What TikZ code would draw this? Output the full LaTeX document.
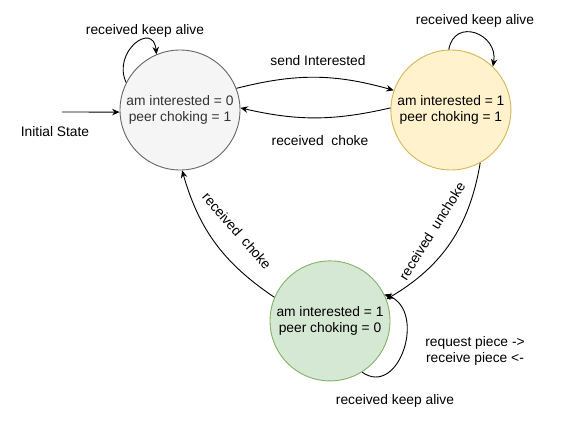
\documentclass[tikz,border=0pt]{standalone}
\usepackage{fontspec}
\setmainfont{Liberation Sans}
\usepackage{xcolor}
\usepackage{tikz}
\usetikzlibrary{shapes.geometric, arrows.meta, positioning}
\definecolor{idlefill}{HTML}{F5F5F5}
\definecolor{idleline}{HTML}{666666}
\definecolor{waitfill}{HTML}{FFF2CC}
\definecolor{waitline}{HTML}{D6B656}
\definecolor{busyfill}{HTML}{D5E8D4}
\definecolor{busyline}{HTML}{82B366}
\tikzstyle{peerstate} = [circle, draw, line width=0.9pt, minimum size=120pt, inner sep=0pt, align=center]
\tikzstyle{arrow} = [-{Stealth[length=7.5pt,width=6.5pt,inset=2.5pt]}, line width=0.9pt]
\tikzstyle{edgetext} = [inner sep=1pt, align=center]

\begin{document}
\begin{tikzpicture}[x=1pt, y=1pt, every node/.style={font=\fontsize{13.8}{15.5}\selectfont}]
\useasboundingbox (0,0) rectangle (561,421);

\node[peerstate, fill=idlefill, draw=idleline, text=black!80] (idle) at (180,311) {am interested = 0\\peer choking = 1};
\node[peerstate, fill=waitfill, draw=waitline, right=150pt of idle] (wait) {am interested = 1\\peer choking = 1};
\node[peerstate, fill=busyfill, draw=busyline, below=90pt of idle, xshift=150pt] (busy) {am interested = 1\\peer choking = 0};

\coordinate (start) at (62,309);
\node[edgetext] (startlbl) at (55,289) {Initial State};

% transitions between the states
\draw[arrow] (start) -- (idle.182);
\draw[arrow] (idle.21) to[bend left=15] (wait.161);
\draw[arrow] (wait.178) to[bend left=13] (idle.2);
\draw[arrow] (wait.299) to[bend left=25] (busy.21);
\draw[arrow] (busy.157) to[bend left=20] (idle.272);

% keep alive loops
\draw[arrow] (idle.153) to[out=115, in=95, looseness=2.1] (idle.113);
\draw[arrow] (wait.92) to[out=80, in=80, looseness=1.8] (wait.46);
\draw[arrow] (busy.302) to[out=-35, in=-20, looseness=1.45] (busy.26);

\node[edgetext] (sendlbl) at (318,360) {send Interested};
\node[edgetext] (chokelbl) at (320,280) {received\ \ choke};
\node[edgetext, rotate=58] (unchokelbl) at (432,190) {received\ \ unchoke};
\node[edgetext, rotate=-49] (backlbl) at (237,190) {received\ \ choke};
\node[edgetext] (idlelbl) at (145,390) {received keep alive};
\node[edgetext] (waitlbl) at (475,400) {received keep alive};
\node[edgetext] (busylbl) at (395,20) {received keep alive};
\node[edgetext] (piecelbl) at (475,70) {request piece ->\\receive piece <-};

\end{tikzpicture}
\end{document}
